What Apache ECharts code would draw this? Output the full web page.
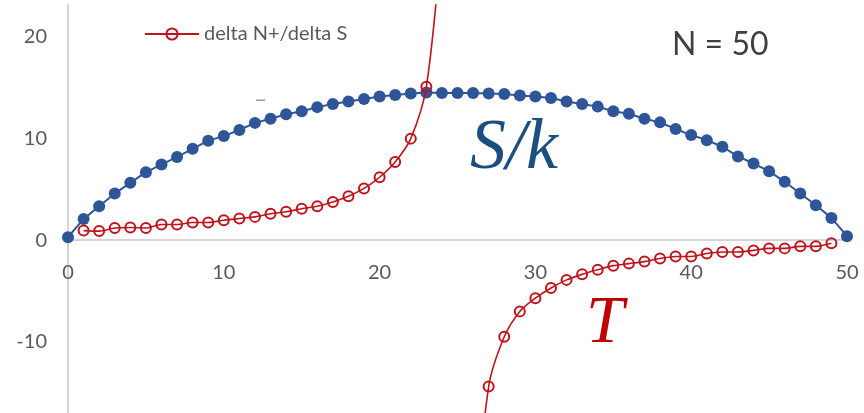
<!DOCTYPE html>
<html>
<head>
<meta charset="utf-8">
<script src="https://cdn.jsdelivr.net/npm/echarts@6/dist/echarts.min.js"></script>
<style>
html,body{margin:0;padding:0;background:#fff;}
#c{width:864px;height:413px;}
</style>
</head>
<body>
<div id="c"></div>
<script>
// n (number of up spins), 0..50
var nValues = [0,1,2,3,4,5,6,7,8,9,10,11,12,13,14,15,16,17,18,19,20,21,22,23,24,25,26,27,28,29,30,31,32,33,34,35,36,37,38,39,40,41,42,43,44,45,46,47,48,49,50];
// S/k
var entropy = [0.3,2.1,3.35,4.6,5.65,6.7,7.45,8.2,9.0,9.8,10.25,10.85,11.55,11.95,12.4,12.7,13.1,13.4,13.65,13.9,14.15,14.3,14.45,14.55,14.5,14.5,14.5,14.45,14.4,14.25,14.15,14.0,13.65,13.4,13.15,12.7,12.45,11.95,11.6,10.95,10.35,9.85,9.2,8.25,7.55,6.8,5.75,4.6,3.45,2.2,0.4];
// delta N+/delta S (temperature); n=25 undefined
var temperature = [null,0.95,0.9,1.2,1.25,1.2,1.55,1.55,1.75,1.75,1.97,2.14,2.3,2.6,2.8,3.1,3.35,3.77,4.33,5.1,6.2,7.7,10.0,15.1,30,null,-30,-14.4,-9.5,-7.0,-5.7,-4.7,-3.9,-3.35,-2.9,-2.5,-2.3,-2.1,-1.8,-1.6,-1.6,-1.3,-1.15,-1.15,-1.0,-0.8,-0.8,-0.6,-0.6,-0.3,null];
var xTicks = [0,10,20,30,40,50];
var yTicks = [-10,0,10,20];
var yMin = -17, yMax = 23.15;

var sData = nValues.map(function(n,i){return [n, entropy[i]];});
var tData = nValues.map(function(n,i){return [n, temperature[i]];});

var chart = echarts.init(document.getElementById('c'), null, {renderer:'canvas'});
var labelFont = 'Lato, "Open Sans", "Noto Sans", sans-serif';
var gridTop = 5, gridBottom = 413;
// pixel row of y = 0, derived from the main axis range, for the label-only axis
var zeroRow = Math.round(gridTop + (yMax - 0) / (yMax - yMin) * (gridBottom - gridTop));
chart.setOption({
  animation:false,
  backgroundColor:'#ffffff',
  grid:[
    {left:68, right:17, top:gridTop, bottom:413 - gridBottom, containLabel:false, outerBoundsMode:'none'},
    {left:68, right:17, top:zeroRow - 1, height:1, containLabel:false, outerBoundsMode:'none'}
  ],
  legend:{
    data:['delta N+/delta S'],
    left:139, top:19,
    itemWidth:54, itemHeight:14, itemGap:6,
    textStyle:{fontFamily:labelFont, fontSize:20, color:'#595959'}
  },
  xAxis:[{
    type:'value', min:0, max:50, interval:10, gridIndex:0,
    axisLine:{onZero:true, lineStyle:{color:'#d4d4d4', width:2}},
    axisTick:{show:false},
    splitLine:{show:false},
    axisLabel:{show:false}
  },{
    type:'value', min:0, max:50, interval:10, gridIndex:1, position:'bottom',
    axisLine:{show:false, onZero:false},
    axisTick:{show:false},
    splitLine:{show:false},
    axisLabel:{fontFamily:labelFont, fontSize:20, color:'#595959', margin:23, customValues:xTicks}
  }],
  yAxis:[{
    type:'value', min:yMin, max:yMax, gridIndex:0,
    axisLine:{show:true, onZero:false, lineStyle:{color:'#d4d4d4', width:2}},
    axisTick:{show:false},
    splitLine:{show:false},
    axisLabel:{fontFamily:labelFont, fontSize:20, color:'#595959', margin:21, customValues:yTicks}
  },{
    type:'value', min:0, max:1, gridIndex:1, show:false
  }],
  series:[
    {
      name:'S/k', type:'line', data:sData, xAxisIndex:0, yAxisIndex:0,
      symbol:'circle', symbolSize:12,
      itemStyle:{color:'#2E5597'},
      lineStyle:{color:'#2E5597', width:2},
      z:2
    },
    {
      name:'delta N+/delta S', type:'line', data:tData, xAxisIndex:0, yAxisIndex:0,
      smooth:0.3, connectNulls:false, clip:true,
      symbol:'circle', symbolSize:10, showSymbol:true,
      itemStyle:{color:'rgba(255,255,255,0)', borderColor:'#C0141C', borderWidth:2},
      lineStyle:{color:'#C0141C', width:1.6},
      z:3
    }
  ],
  graphic:[
    {type:'text', left:672, top:29, style:{text:'N = 50', font:'32px ' + labelFont, fill:'#404040'}},
    {type:'text', x:470, y:149, style:{text:'S/k', font:'italic 72px "Liberation Serif", "DejaVu Serif", serif', fill:'#1B4F7F', verticalAlign:'middle'}},
    {type:'text', x:586, y:324, style:{text:'T', font:'italic 68px "Liberation Serif", "DejaVu Serif", serif', fill:'#C00000', verticalAlign:'middle'}},
    {type:'rect', shape:{x:256, y:99.5, width:9, height:1.5}, style:{fill:'#9a9a9a'}}
  ]
});
</script>
</body>
</html>
